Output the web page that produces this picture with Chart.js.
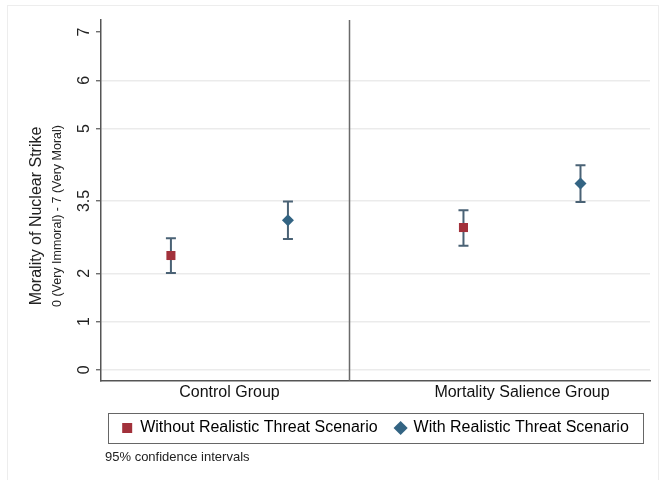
<!DOCTYPE html>
<html>
<head>
<meta charset="utf-8">
<script src="https://cdn.jsdelivr.net/npm/chart.js@4"></script>
<style>
  html, body { margin: 0; padding: 0; background: #fff; }
  #wrap { width: 659px; height: 480px; position: relative; }
</style>
</head>
<body>
<div id="wrap"><canvas id="chart"></canvas></div>
<script>
// groups along the x axis
const groups = ['Control Group', 'Mortality Salience Group'];
const groupPos = [1, 2];

// means and 95% CIs
const withoutMean = [2.37, 2.95];
const withoutLow = [2.01, 2.57];
const withoutHigh = [2.73, 3.31];

const withMean = [3.10, 3.86];
const withLow = [2.71, 3.48];
const withHigh = [3.49, 4.24];

const yTicks = [0, 1, 2, 3.5, 5, 6, 7];
const dividerAt = 1.41;   // vertical line between the groups

const font = "'Liberation Sans', Arial, Helvetica, sans-serif";
const redCol = '#a2313b';
const blueCol = '#336483';
const barCol = '#4a6275';
const legendPad = 18;

function points(means, offset) {
  return means.map((m, i) => ({ x: groupPos[i] + offset, y: m }));
}

// error bars, y-axis title, legend frame, caption
const extras = {
  id: 'extras',
  beforeDatasetsDraw(chart) {
    const ctx = chart.ctx;
    const xs = chart.scales.x, ys = chart.scales.y;
    const area = chart.chartArea;
    ctx.save();
    // divider between groups
    ctx.strokeStyle = '#6a6a6a';
    ctx.lineWidth = 1.5;
    const dx = Math.round(xs.getPixelForValue(dividerAt)) + 0.5;
    ctx.beginPath();
    ctx.moveTo(dx, area.top);
    ctx.lineTo(dx, area.bottom);
    ctx.stroke();

    // confidence intervals
    const sets = [
      [withLow, withHigh, 0.2], [withoutLow, withoutHigh, -0.2]
    ];
    ctx.strokeStyle = barCol;
    ctx.lineWidth = 2;
    sets.forEach(([lo, hi, off]) => {
      lo.forEach((l, i) => {
        const x = xs.getPixelForValue(groupPos[i] + off);
        const y1 = ys.getPixelForValue(l);
        const y2 = ys.getPixelForValue(hi[i]);
        ctx.beginPath();
        ctx.moveTo(x, y1); ctx.lineTo(x, y2);
        ctx.moveTo(x - 5, y1); ctx.lineTo(x + 5, y1);
        ctx.moveTo(x - 5, y2); ctx.lineTo(x + 5, y2);
        ctx.stroke();
      });
    });
    ctx.restore();
  },
  afterDraw(chart) {
    const ctx = chart.ctx;
    const area = chart.chartArea;
    ctx.save();
    // faint outer frame
    ctx.strokeStyle = '#ededed';
    ctx.lineWidth = 1;
    ctx.strokeRect(7.5, 5.5, 651, 480);

    // y-axis title, two lines
    ctx.fillStyle = '#222';
    ctx.textAlign = 'center';
    ctx.textBaseline = 'middle';
    ctx.translate(37, 216);
    ctx.rotate(-Math.PI / 2);
    ctx.font = '16px ' + font;
    ctx.fillText('Morality of Nuclear Strike', 0, 0);
    ctx.font = '12.5px ' + font;
    ctx.fillText('0 (Very Immoral) - 7 (Very Moral)', 0, 21);
    ctx.setTransform(1, 0, 0, 1, 0, 0);

    // legend frame
    const lg = chart.legend;
    const cy = lg.top + legendPad + 7.5;
    ctx.strokeStyle = '#666';
    ctx.lineWidth = 1;
    ctx.strokeRect(Math.round(area.left + 7) + 0.5, Math.round(cy - 15) + 0.5,
      Math.round(area.right - area.left - 14), 30);

    // caption
    ctx.fillStyle = '#222';
    ctx.textAlign = 'left';
    ctx.font = '13px ' + font;
    ctx.fillText('95% confidence intervals', area.left + 4, 457);
    ctx.restore();
  }
};

new Chart(document.getElementById('chart'), {
  type: 'scatter',
  data: {
    datasets: [
      {
        label: 'Without Realistic Threat Scenario',
        data: points(withoutMean, -0.2),
        pointStyle: 'rect',
        pointRadius: 6.4,
        pointHoverRadius: 6.4,
        backgroundColor: redCol,
        borderColor: redCol,
        borderWidth: 0
      },
      {
        label: 'With Realistic Threat Scenario',
        data: points(withMean, 0.2),
        pointStyle: 'rectRot',
        pointRadius: 6,
        pointHoverRadius: 6,
        backgroundColor: blueCol,
        borderColor: blueCol,
        borderWidth: 0
      }
    ]
  },
  options: {
    responsive: true,
    maintainAspectRatio: false,
    animation: false,
    layout: { padding: { left: 68, right: 9, top: 20, bottom: 34 } },
    plugins: {
      tooltip: { enabled: false },
      legend: {
        position: 'bottom',
        fullSize: false,
        labels: {
          usePointStyle: true,
          boxWidth: 10,
          boxHeight: 10,
          padding: legendPad,
          color: '#111',
          font: { family: font, size: 16 },
          generateLabels(chart) {
            return chart.data.datasets.map((ds, i) => ({
              text: ds.label,
              fillStyle: ds.backgroundColor,
              strokeStyle: ds.backgroundColor,
              lineWidth: 0,
              pointStyle: ds.pointStyle,
              datasetIndex: i
            }));
          }
        }
      }
    },
    scales: {
      x: {
        type: 'linear',
        min: 0.561,
        max: 2.4376,
        afterBuildTicks(scale) {
          scale.ticks = groupPos.map(v => ({ value: v }));
        },
        afterFit(scale) { scale.height = 39 - legendPad; },
        ticks: {
          color: '#111',
          padding: 2,
          maxRotation: 0,
          font: { family: font, size: 16 },
          callback: (v) => groups[groupPos.indexOf(v)]
        },
        grid: { display: false, drawTicks: false },
        border: { display: true, color: '#555', width: 1.5 }
      },
      y: {
        min: -0.23,
        max: 7.25,
        afterBuildTicks(scale) {
          scale.ticks = yTicks.map(v => ({ value: v }));
        },
        afterFit(scale) { scale.width = 33; },
        ticks: {
          color: '#222',
          padding: 0,
          minRotation: 90,
          maxRotation: 90,
          crossAlign: 'center',
          font: { family: font, size: 16 },
          callback: (v) => String(v)
        },
        grid: {
          color: (c) => (c.tick && c.tick.value === 7) ? 'rgba(0,0,0,0)' : '#ebebeb',
          lineWidth: 1.5,
          tickColor: '#555',
          tickLength: 5,
          tickWidth: 1.2
        },
        border: { display: true, color: '#555', width: 1.5 }
      }
    }
  },
  plugins: [extras]
});
</script>
</body>
</html>
